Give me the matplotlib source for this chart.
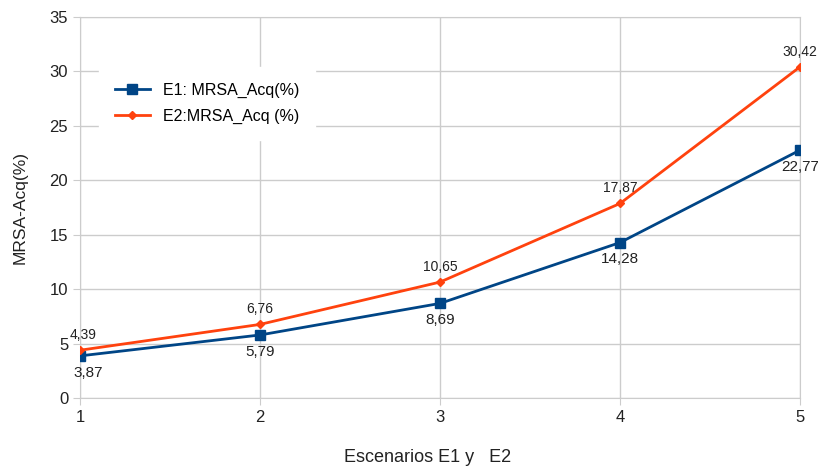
import matplotlib.pyplot as plt

plt.rcParams['font.family'] = ['Liberation Sans', 'DejaVu Sans']

# Datos de los escenarios
escenarios = [1, 2, 3, 4, 5]
e1_valores = [3.87, 5.79, 8.69, 14.28, 22.77]
e2_valores = [4.39, 6.76, 10.65, 17.87, 30.42]
e1_etiquetas = ["3,87", "5,79", "8,69", "14,28", "22,77"]
e2_etiquetas = ["4,39", "6,76", "10,65", "17,87", "30,42"]

fig = plt.figure(figsize=(8.18, 4.66), dpi=100)
ax = fig.add_axes([0.0978, 0.1459, 0.8802, 0.8176])

azul = "#004586"
naranja = "#ff420e"

ax.plot(escenarios, e1_valores, color=azul, lw=2, marker="s", markersize=6.5,
        label="E1: MRSA_Acq(%)", zorder=3)
ax.plot(escenarios, e2_valores, color=naranja, lw=2, marker="D", markersize=4.5,
        label="E2:MRSA_Acq (%)", zorder=3)

# Etiquetas de datos
for i, (x, y) in enumerate(zip(escenarios, e1_valores)):
    dx = 6 if i == 0 else 0
    ax.annotate(e1_etiquetas[i], (x, y), xytext=(dx, -12), textcoords="offset points",
                ha="center", va="center", fontsize=11, color="#222222")
for i, (x, y) in enumerate(zip(escenarios, e2_valores)):
    dx = 2 if i == 0 else 0
    ax.annotate(e2_etiquetas[i], (x, y), xytext=(dx, 11), textcoords="offset points",
                ha="center", va="center", fontsize=10, color="#222222")

ax.set_xlim(1, 5)
ax.set_ylim(0, 35)
ax.set_xticks(escenarios)
ax.set_yticks(range(0, 36, 5))
ax.grid(True, color="#cccccc", lw=1)
ax.set_axisbelow(True)
for s in ax.spines.values():
    s.set_color("#cccccc")
ax.tick_params(colors="#cccccc", labelcolor="#222222", labelsize=12, length=5)

ax.set_xlabel("Escenarios E1 y   E2", fontsize=13, color="#222222")
ax.set_ylabel("MRSA-Acq(%)", fontsize=12.5, color="#222222", labelpad=16)
ax.xaxis.set_label_coords(0.483, -0.135)

leg = ax.legend(loc="upper left", bbox_to_anchor=(0.015, 0.89), frameon=True,
                fontsize=11.5, handlelength=2.2, borderpad=1.0, labelspacing=0.65)
leg.get_frame().set_facecolor("white")
leg.get_frame().set_edgecolor("white")
leg.get_frame().set_alpha(1)

fig.savefig("out.png", dpi=100)
